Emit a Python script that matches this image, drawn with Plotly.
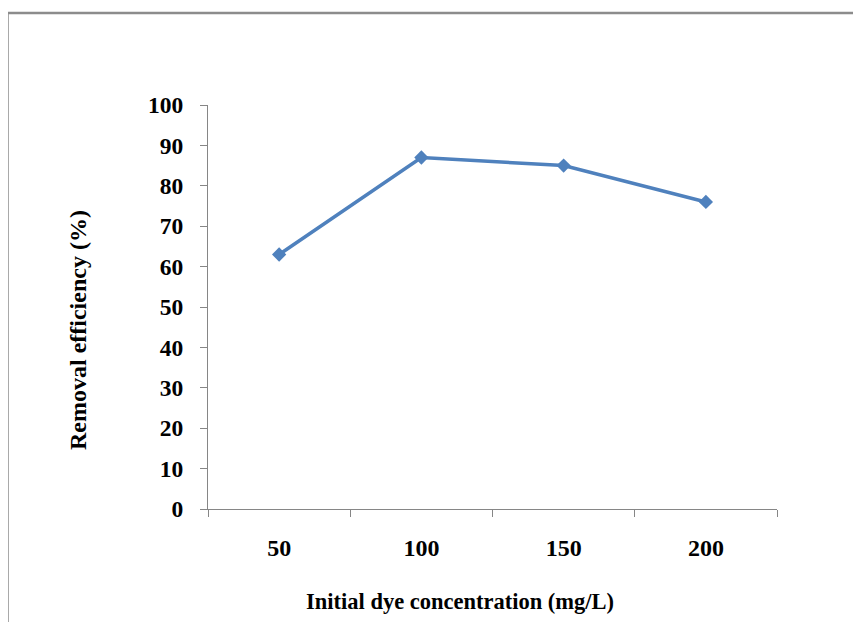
import plotly.graph_objects as go

categories = ["50", "100", "150", "200"]
removal_efficiency = [63, 87, 85, 76]
y_ticks = list(range(0, 101, 10))

W, H = 861, 622
OFF = 8  # default page body margin
L, R, T, B = 208 - OFF, 861 - 777 + OFF, 105 - OFF, 622 - 509 + OFF
pw, ph = W - L - R, H - T - B

def px(x):
    return (x - OFF - L) / pw

def py(y):
    return (H - B - (y - OFF)) / ph

font = "Liberation Serif"
grey = "#868686"

fig = go.Figure()
fig.add_trace(go.Scatter(
    x=categories, y=removal_efficiency, mode="lines+markers",
    line=dict(color="#4F81BD", width=3.5),
    marker=dict(symbol="diamond", size=11, color="#4F81BD"),
    showlegend=False,
))

fig.update_layout(
    width=W, height=H,
    margin=dict(l=L, r=R, t=T, b=B),
    paper_bgcolor="white", plot_bgcolor="white",
    xaxis=dict(
        type="category", range=[-0.5, len(categories) - 0.5],
        tickson="boundaries", ticks="outside", ticklen=7,
        tickcolor=grey, showline=True, linecolor=grey, linewidth=1.3,
        showgrid=False, zeroline=False,
        tickfont=dict(family=font, size=24, color="black", weight="bold"),
        ticklabelstandoff=17,
    ),
    yaxis=dict(
        range=[0, 100], tickvals=y_ticks, ticks="outside", ticklen=7,
        tickcolor=grey, showline=True, linecolor=grey, linewidth=1.3,
        showgrid=False, zeroline=False,
        tickfont=dict(family=font, size=23.5, color="black", weight="bold"),
        ticklabelstandoff=12,
    ),
    shapes=[
        dict(type="line", xref="paper", yref="paper", x0=px(7.5), x1=px(880), y0=py(13), y1=py(13),
             line=dict(color="#8c8c8c", width=2.5)),
        dict(type="line", xref="paper", yref="paper", x0=px(7.5), x1=px(7.5), y0=py(13), y1=py(660),
             line=dict(color="#8c8c8c", width=2.5)),
    ],
    annotations=[
        dict(text="<b>Initial dye concentration (mg/L)</b>", xref="paper", yref="paper",
             x=px(460), y=py(601), showarrow=False, xanchor="center", yanchor="middle",
             font=dict(family=font, size=22.5, color="black")),
        dict(text="<b>Removal efficiency (%)</b>", xref="paper", yref="paper",
             x=px(78), y=py(330), showarrow=False, textangle=-90, xanchor="center", yanchor="middle",
             font=dict(family=font, size=24, color="black")),
    ],
)

fig.write_html("out.html")
